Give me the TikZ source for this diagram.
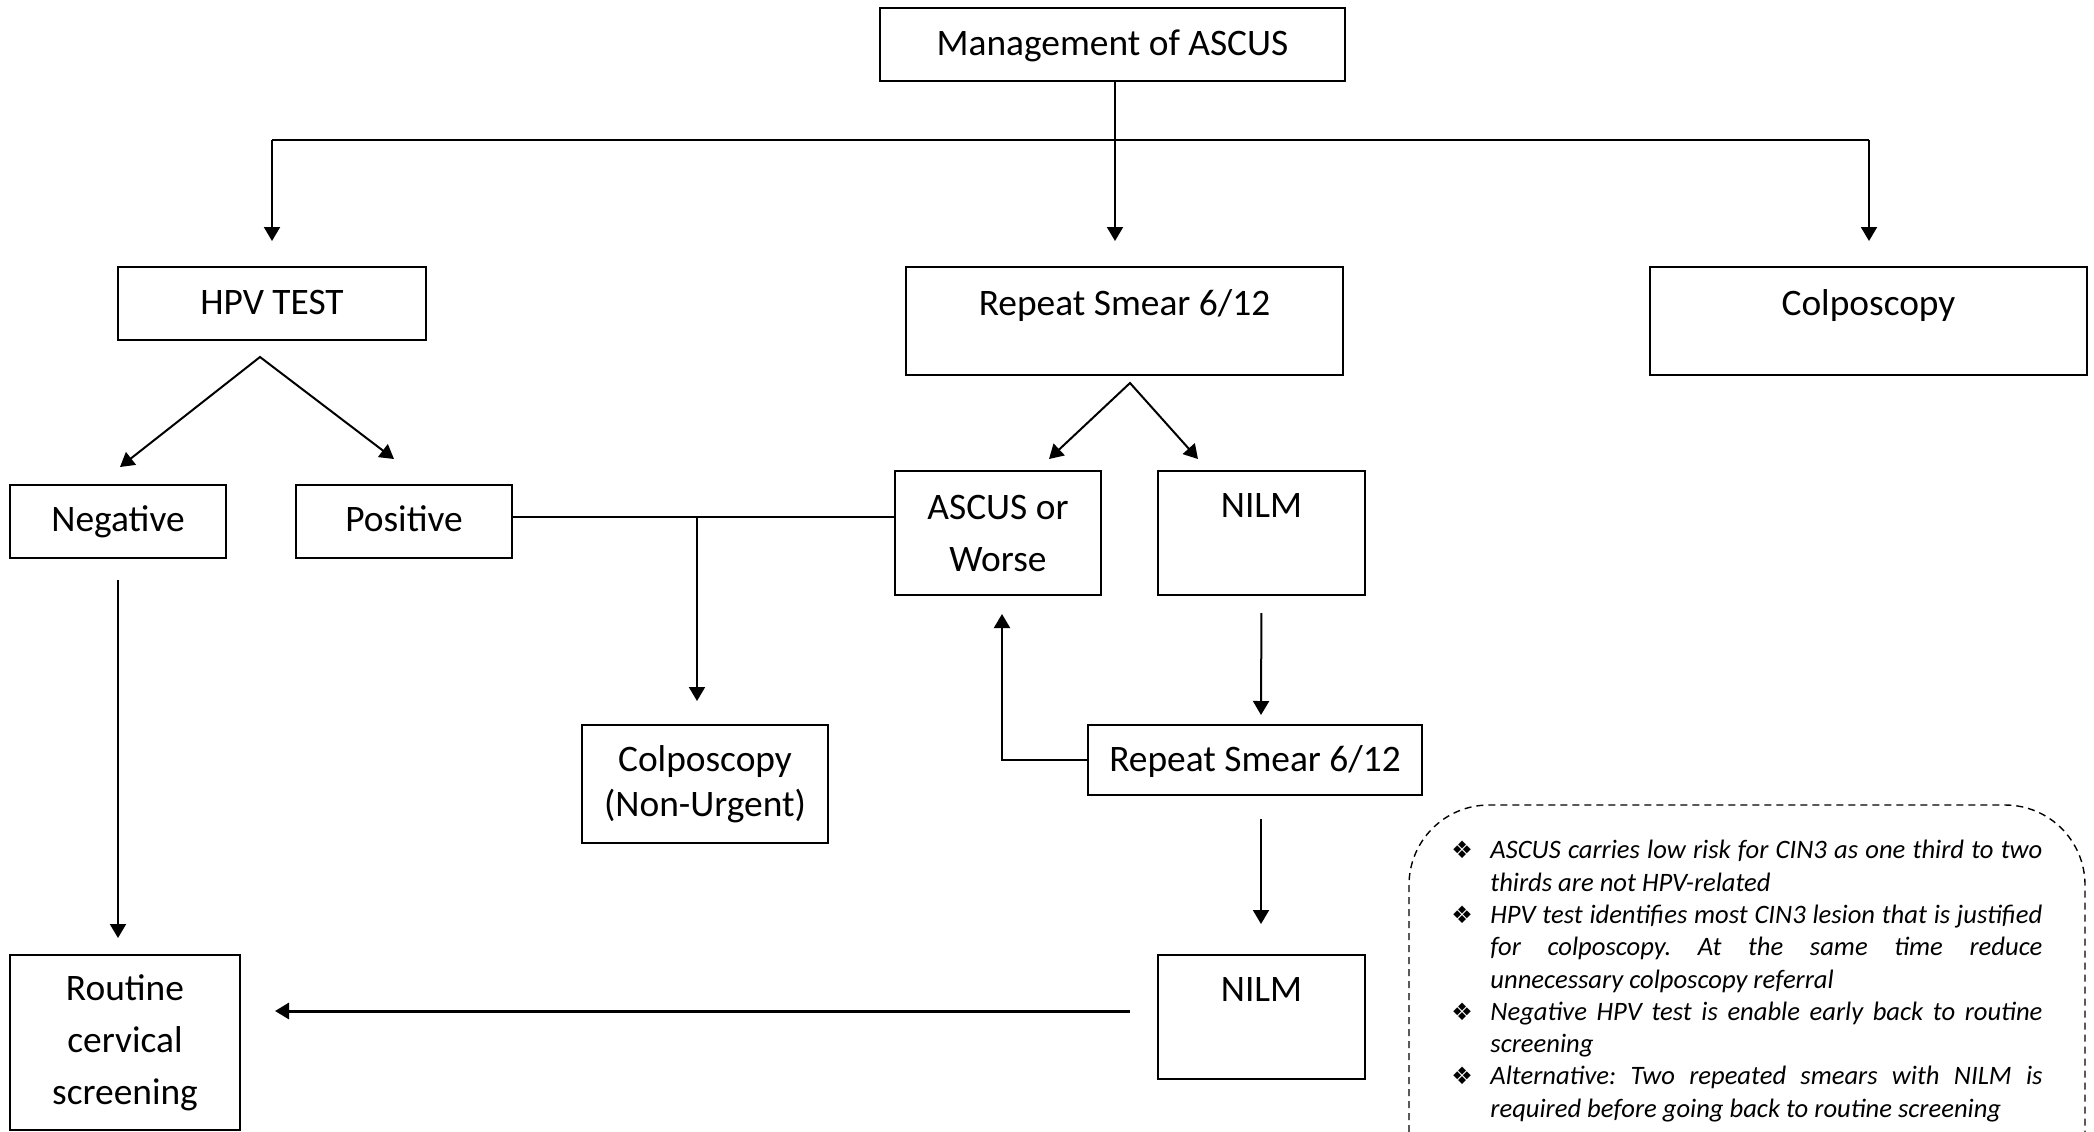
\documentclass[tikz,border=0pt]{standalone}
\usepackage{fontspec}
\setmainfont{Carlito}
\newfontfamily\symfont{DejaVu Sans}
\usetikzlibrary{arrows.meta}

\newcommand{\notebullet}{\noindent\makebox[13pt][l]{\hspace*{-6.5pt}\symfont\fontsize{12}{10}\selectfont ❖}}

\begin{document}
\begin{tikzpicture}[x=0.5pt,y=-0.5pt,
  box/.style={draw, line width=1pt, inner sep=0pt, align=center,
    font=\fontsize{18.7}{22}\selectfont},
  link/.style={line width=1pt},
  thinlink/.style={line width=0.75pt},
  arr/.style={line width=1pt, -{Triangle[length=7pt,width=8pt]}},
  twoarr/.style={line width=1pt, line join=miter,
    {Triangle[length=7pt,width=8pt]}-{Triangle[length=7pt,width=8pt]}},
  notetext/.style={inner sep=0pt, text width=289pt, align=justify,
    font=\fontsize{13.3}{16.15}\selectfont\itshape},
  notebox/.style={dashed, dash pattern=on 3.5pt off 2.5pt, line width=0.7pt,
    rounded corners=40pt},
]
\path[use as bounding box] (0,0) rectangle (2094,1131);

% ---- boxes ----
\node[box, minimum width=232.5pt, minimum height=36.5pt,
      text height=23.75pt, text depth=12.75pt] (mgmt) at (1112.5,44.5) {Management of ASCUS};
\node[box, minimum width=154pt, minimum height=36.5pt,
      text height=23.75pt, text depth=12.75pt] (hpv) at (272,303.5) {HPV TEST};
\node[box, minimum width=218.5pt, minimum height=54pt,
      text height=24pt, text depth=30pt] (rs1) at (1124.5,321) {Repeat Smear 6/12};
\node[box, minimum width=218.5pt, minimum height=54pt,
      text height=24pt, text depth=30pt] (colpo) at (1868.5,321) {Colposcopy};
\node[box, minimum width=108pt, minimum height=36.5pt,
      text height=23.25pt, text depth=13.25pt] (neg) at (118,521.5) {Negative};
\node[box, minimum width=108pt, minimum height=36.5pt,
      text height=23.25pt, text depth=13.25pt] (pos) at (404,521.5) {Positive};
\node[box, minimum width=103pt, minimum height=62pt,
      font=\fontsize{18.7}{26}\selectfont] (ascus) at (998,533) {ASCUS or\\Worse};
\node[box, minimum width=103.5pt, minimum height=62pt,
      text height=23.25pt, text depth=38.75pt] (nilm) at (1261.5,533) {NILM};
\node[box, minimum width=123pt, minimum height=59pt,
      font=\fontsize{18.7}{22.5}\selectfont] (colnu) at (705,784) {Colposcopy\\(Non-Urgent)};
\node[box, minimum width=167pt, minimum height=35pt,
      text height=23.25pt, text depth=11.75pt] (rs2) at (1255,760) {Repeat Smear 6/12};
\node[box, minimum width=103.5pt, minimum height=62pt,
      text height=23.25pt, text depth=38.75pt] (nilm2) at (1261.5,1017) {NILM};
\node[box, minimum width=115pt, minimum height=87.5pt,
      font=\fontsize{18.7}{26}\selectfont] (routine) at (125,1042.5) {Routine\\cervical\\screening};

% ---- free arrow ends and junctions ----
\coordinate (busL) at (272,140);
\coordinate (busR) at (1869,140);
\coordinate (rs1in) at (1115,241);
\coordinate (hpvin) at (272,241);
\coordinate (colpoin) at (1869,241);
\coordinate (hpvfork) at (260,357);
\coordinate (negin) at (120,467);
\coordinate (posin) at (394,459);
\coordinate (rsfork) at (1130,383);
\coordinate (ascin) at (1049,459);
\coordinate (nilmin) at (1198,459);
\coordinate (posj) at (697,517);
\coordinate (colnuin) at (697,701);
\coordinate (rtin) at (118,938);
\coordinate (rs2in) at (1261,715);
\coordinate (fbin) at (1002,614);
\coordinate (nilm2in) at (1261,924);
\coordinate (botline) at (1131,1011);
\coordinate (rtarr) at (275,1011);

% ---- connectors ----
\draw[link] (busL) -- (busR);
\draw[arr] (mgmt.south -| rs1in) -- (rs1in);
\draw[arr] (busL) -- (hpvin);
\draw[arr] (busR) -- (colpoin);
\draw[twoarr] (negin) -- (hpvfork) -- (posin);
\draw[twoarr] (ascin) -- (rsfork) -- (nilmin);
\draw[thinlink] (pos.east |- posj) -- (ascus.west |- posj);
\draw[arr] (posj) -- (colnuin);
\draw[arr, shorten <=10.5pt] (neg.south) -- (rtin);
\draw[arr, shorten <=8.5pt] (nilm.south) -- (rs2in);
\draw[arr] (rs2.west) -| (fbin);
\draw[arr, shorten <=11.5pt] (rs2.south -| nilm2in) -- (nilm2in);
\draw[arr, line width=1.5pt, shorten <=13.5pt] (nilm2.west |- botline) -- (rtarr);

% ---- notes ----
\begin{scope}
\clip (0,0) rectangle (2094,1131);
\draw[notebox] (1409,1300) |- (2085,805) -- (2085,1300);
\end{scope}
\node[notetext, anchor=north west] (notes) at (1464,840) {%
  \frenchspacing \tolerance=10000 \hyphenpenalty=10000 \exhyphenpenalty=10000
  \hangindent=13pt \hangafter=1 \notebullet
  ASCUS carries low risk for CIN3 as one third to two\linebreak thirds are not HPV-related\par
  \hangindent=13pt \hangafter=1 \notebullet
  HPV test identifies most CIN3 lesion that is justified\linebreak for colposcopy. At the same time reduce\linebreak unnecessary colposcopy referral\par
  \hangindent=13pt \hangafter=1 \notebullet
  Negative HPV test is enable early back to routine\linebreak screening\par
  \hangindent=13pt \hangafter=1 \notebullet
  Alternative: Two repeated smears with NILM is\linebreak required before going back to routine screening\par};
\end{tikzpicture}
\end{document}
